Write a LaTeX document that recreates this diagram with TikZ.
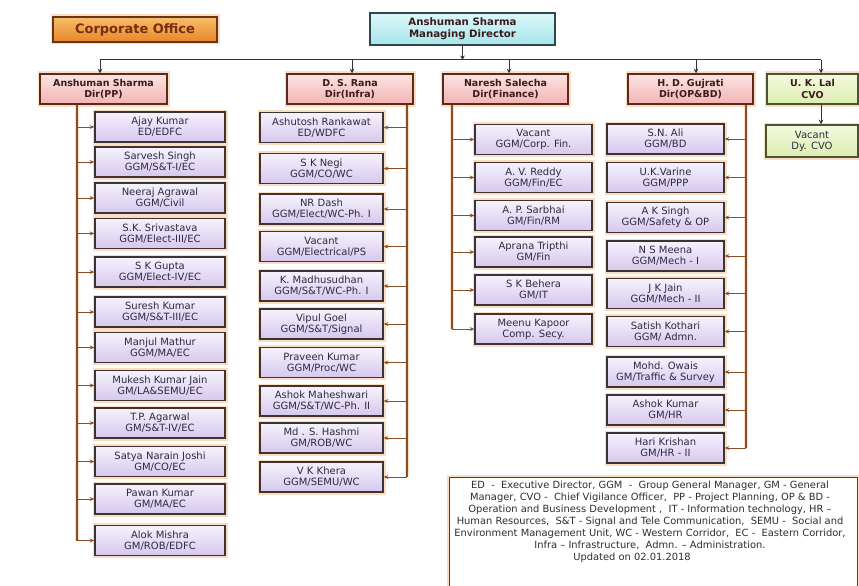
\documentclass[tikz,border=0pt]{standalone}
\usepackage{fontspec}
\setmainfont{DejaVu Sans}
\usetikzlibrary{arrows.meta}

\definecolor{glowc}{HTML}{F4A050}
\definecolor{empline}{HTML}{3E3232}
\definecolor{emptop}{HTML}{F6F2FC}
\definecolor{empbot}{HTML}{D6C8EE}
\definecolor{emptext}{HTML}{2C2A44}
\definecolor{dirline}{HTML}{5A2A1E}
\definecolor{dirtop}{HTML}{FBE4E2}
\definecolor{dirbot}{HTML}{F2B4B2}
\definecolor{dirtext}{HTML}{3A1C1C}
\definecolor{mdline}{HTML}{2E4650}
\definecolor{mdtop}{HTML}{DDF8FA}
\definecolor{mdbot}{HTML}{A6E6EA}
\definecolor{cvoline}{HTML}{4A5430}
\definecolor{cvotop}{HTML}{F4FADF}
\definecolor{cvobot}{HTML}{DCEDB0}
\definecolor{corptop}{HTML}{F8BE6A}
\definecolor{corpbot}{HTML}{E8862A}
\definecolor{corpline}{HTML}{6A3418}
\definecolor{corptext}{HTML}{7B2D12}
\definecolor{trunkc}{HTML}{8A4E22}
\definecolor{busc}{HTML}{333333}
\definecolor{legline}{HTML}{5A3A2A}
\definecolor{legtextc}{HTML}{2E2E2E}

\tikzset{
  glow/.style={preaction={draw=glowc, line width=5pt, opacity=0.35}},
  emp/.style={glow, draw=empline, line width=1.5pt, top color=emptop, bottom color=empbot,
    align=center, text=emptext, font=\fontsize{10}{11}\selectfont, inner sep=1pt,
    minimum height=30pt},
  dirbox/.style={glow, draw=dirline, line width=1.5pt, top color=dirtop, bottom color=dirbot,
    align=center, text=dirtext, font=\bfseries\fontsize{9.5}{11.5}\selectfont, inner sep=1pt,
    minimum height=30pt},
  mdbox/.style={draw=mdline, line width=1.6pt, top color=mdtop, bottom color=mdbot,
    align=center, text=dirtext, font=\bfseries\fontsize{10.2}{12}\selectfont, inner sep=1pt},
  cvobox/.style={glow, draw=cvoline, line width=1.5pt, top color=cvotop, bottom color=cvobot,
    align=center, text=dirtext, inner sep=1pt},
  corpbox/.style={glow, draw=corpline, line width=1.6pt, top color=corptop, bottom color=corpbot,
    text=corptext, font=\bfseries\fontsize{13}{15}\selectfont, inner sep=1pt},
  trunk/.style={draw=trunkc, line width=1.3pt, preaction={draw=glowc, line width=4pt, opacity=0.3}},
  branch/.style={draw=trunkc, line width=0.9pt, -{Stealth[length=4.5pt,width=4pt]}},
  busline/.style={draw=busc, line width=1pt},
  busarrow/.style={draw=busc, line width=1pt, -{Stealth[length=4.5pt,width=4.5pt]}},
  legendbox/.style={glow, draw=legline, line width=1.4pt, fill=white},
  legendtext/.style={align=center, text=legtextc, font=\fontsize{9.9}{12}\selectfont, inner sep=1pt}
}

\begin{document}
\begin{tikzpicture}[x=1pt,y=-1pt]
\useasboundingbox (0,0) rectangle (859,586);

% header row
\node[corpbox, minimum width=164pt, minimum height=25pt] (corp) at (135,29.5) {Corporate Office};
\node[mdbox, minimum width=185pt, minimum height=32pt] (md) at (462.5,29) {Anshuman Sharma\\Managing Director};

% directors
\node[dirbox, minimum width=127pt] (d1) at (103.5,89) {Anshuman Sharma\\Dir(PP)};
\node[dirbox, minimum width=126pt] (d2) at (350,89) {D. S. Rana\\Dir(Infra)};
\node[dirbox, minimum width=125pt] (d3) at (505.5,89) {Naresh Salecha\\Dir(Finance)};
\node[dirbox, minimum width=125pt] (d4) at (690.5,89) {H. D. Gujrati\\Dir(OP\&BD)};
\node[cvobox, font=\bfseries\fontsize{9.5}{11.5}\selectfont, minimum width=91pt, minimum height=30pt] (d5) at (812.5,89) {U. K. Lal\\CVO};

% bus from the managing director
\coordinate (bus) at (462.5,60);
\coordinate (busL) at (100,60);
\coordinate (busR) at (821,60);
\coordinate (x2) at (352,60);
\coordinate (x3) at (509,60);
\coordinate (x4) at (696,60);
\draw[busarrow] (md.south) -- (bus);
\draw[busline] (busL) -- (busR);
\draw[busarrow] (busL) -- (busL |- d1.north);
\draw[busarrow] (x2) -- (x2 |- d2.north);
\draw[busarrow] (x3) -- (x3 |- d3.north);
\draw[busarrow] (x4) -- (x4 |- d4.north);
\draw[busarrow] (busR) -- (busR |- d5.north);

% trunks
\coordinate (t1) at (77,540.5);
\coordinate (t2) at (407,477);
\coordinate (t3) at (452,329);
\coordinate (t4) at (746,448);
\draw[trunk] (t1 |- d1.south) -- (t1);
\draw[trunk] (t2 |- d2.south) -- (t2);
\draw[trunk] (t3 |- d3.south) -- (t3);
\draw[trunk] (t4 |- d4.south) -- (t4);

% Dir(PP)
\foreach \y/\t [count=\i] in {
  127/{Ajay Kumar\\ED/EDFC},
  162/{Sarvesh Singh\\GGM/S\&T-I/EC},
  198/{Neeraj Agrawal\\GGM/Civil},
  233.5/{S.K. Srivastava\\GGM/Elect-III/EC},
  272/{S K Gupta\\GGM/Elect-IV/EC},
  312/{Suresh Kumar\\GGM/S\&T-III/EC},
  347.5/{Manjul Mathur\\GGM/MA/EC},
  385.5/{Mukesh Kumar Jain\\GM/LA\&SEMU/EC},
  423/{T.P. Agarwal\\GM/S\&T-IV/EC},
  461.5/{Satya Narain Joshi\\GM/CO/EC},
  499/{Pawan Kumar\\GM/MA/EC},
  540.5/{Alok Mishra\\GM/ROB/EDFC}} {
  \node[emp, minimum width=130pt] (a\i) at (160,\y) {\t};
  \draw[branch] (a\i.west -| t1) -- (a\i.west);
}

% Dir(Infra)
\foreach \y/\t [count=\i] in {
  127.5/{Ashutosh Rankawat\\ED/WDFC},
  168.5/{S K Negi\\GGM/CO/WC},
  209/{NR Dash\\GGM/Elect/WC-Ph. I},
  246.5/{Vacant\\GGM/Electrical/PS},
  286/{K. Madhusudhan\\GGM/S\&T/WC-Ph. I},
  324/{Vipul Goel\\GGM/S\&T/Signal},
  362.5/{Praveen Kumar\\GGM/Proc/WC},
  401/{Ashok Maheshwari\\GGM/S\&T/WC-Ph. II},
  438/{Md . S. Hashmi\\GM/ROB/WC},
  477/{V K Khera\\GGM/SEMU/WC}} {
  \node[emp, minimum width=123pt] (b\i) at (321.5,\y) {\t};
  \draw[branch] (b\i.east -| t2) -- (b\i.east);
}

% Dir(Finance)
\foreach \y/\t [count=\i] in {
  139.5/{Vacant\\GGM/Corp. Fin.},
  177.5/{A. V. Reddy\\GGM/Fin/EC},
  215.5/{A. P. Sarbhai\\GM/Fin/RM},
  252/{Aprana Tripthi\\GM/Fin},
  290/{S K Behera\\GM/IT},
  329/{Meenu Kapoor\\Comp. Secy.}} {
  \node[emp, minimum width=117pt] (c\i) at (533.5,\y) {\t};
  \draw[branch] (c\i.west -| t3) -- (c\i.west);
}

% Dir(OP&BD)
\foreach \y/\t [count=\i] in {
  139/{S.N. Ali\\GGM/BD},
  177.5/{U.K.Varine\\GGM/PPP},
  217.5/{A K Singh\\GGM/Safety \& OP},
  256/{N S Meena\\GGM/Mech - I},
  293.5/{J K Jain\\GGM/Mech - II},
  331.5/{Satish Kothari\\GGM/ Admn.},
  372/{Mohd.  Owais\\GM/Traffic \& Survey},
  410/{Ashok Kumar\\GM/HR},
  448/{Hari  Krishan\\GM/HR - II}} {
  \node[emp, minimum width=117pt] (e\i) at (665.5,\y) {\t};
  \draw[branch] (e\i.east -| t4) -- (e\i.east);
}

% CVO
\node[cvobox, text=emptext, font=\fontsize{10}{11}\selectfont, minimum width=92pt, minimum height=32pt] (v1) at (812,141) {Vacant\\Dy. CVO};
\coordinate (cv) at (821,0);
\draw[busarrow] (cv |- d5.south) -- (cv |- v1.north);

% abbreviations
\node[legendbox, anchor=north west, minimum width=408pt, minimum height=130pt] (legend) at (449,477) {};
\node[legendtext, anchor=north] (legtext) at (650,479.5) {%
ED \ - \ Executive Director, GGM \ - \ Group General Manager, GM - General\\
Manager, CVO - \ Chief Vigilance Officer, \ PP - Project Planning, OP \& BD -\\
Operation and Business Development , \ IT - Information technology, HR –\\
Human Resources, \ S\&T - Signal and Tele Communication, \ SEMU - \ Social and\\
Environment Management Unit, WC - Western Corridor, \ EC - \ Eastern Corridor,\\
Infra – Infrastructure, \ Admn. – Administration.\hspace*{46pt}\\
Updated on 02.01.2018\hspace*{36pt}};
\end{tikzpicture}
\end{document}
